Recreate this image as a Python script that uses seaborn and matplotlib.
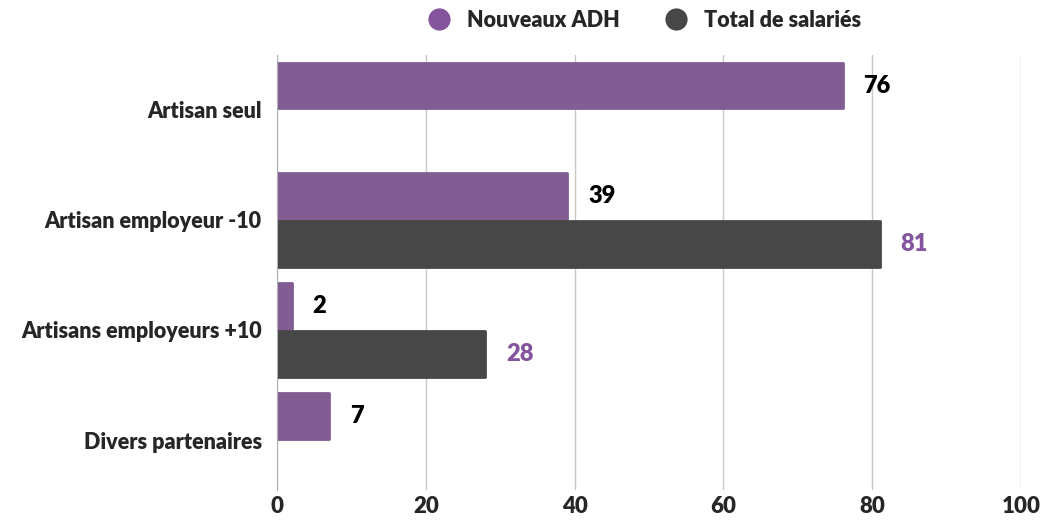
import pandas as pd
import numpy as np
import matplotlib
matplotlib.use("Agg")
import matplotlib.pyplot as plt
from matplotlib.lines import Line2D
import seaborn as sns

# données
categories = ["Artisan seul", "Artisan employeur -10", "Artisans employeurs +10", "Divers partenaires"]
series = ["Nouveaux ADH", "Total de salariés"]
nouveaux_adh = [76, 39, 2, 7]
total_salaries = [np.nan, 81, 28, np.nan]
x_ticks = [0, 20, 40, 60, 80, 100]

violet = "#84549c"
gris = "#474747"

df = pd.DataFrame({
    "categorie": categories * 2,
    "serie": [series[0]] * 4 + [series[1]] * 4,
    "valeur": nouveaux_adh + total_salaries,
})

sns.set_style("white")
plt.rcParams["font.family"] = ["Lato", "DejaVu Sans"]

fig = plt.figure(figsize=(10.43, 5.23), dpi=100)
ax = fig.add_axes([0.2656, 0.064, 0.7134, 0.831])

sns.barplot(data=df, y="categorie", x="valeur", hue="serie", orient="h",
            palette=[violet, gris], width=0.88, gap=0.06, legend=False, ax=ax,
            order=categories, hue_order=series)

# coins légèrement arrondis
for p in ax.patches:
    p.set_edgecolor(p.get_facecolor())
    p.set_linewidth(2)
    p.set_joinstyle("round")

# étiquettes de valeurs
label_colors = ["black", violet]
for cont, col in zip(ax.containers, label_colors):
    labs = ["" if (np.isnan(v) or v == 0) else f"{int(v)}" for v in cont.datavalues]
    ax.bar_label(cont, labels=labs, padding=15, color=col, fontsize=17, fontweight="heavy")

ax.set_xlim(0, 100)
ax.set_xticks(x_ticks)
ax.set_xticklabels([str(t) for t in x_ticks], fontsize=16, fontweight="heavy")
ax.set_ylim(3.45, -0.5)
ax.set_xlabel("")
ax.set_ylabel("")
ax.tick_params(axis="y", labelsize=15.5, length=0, pad=11)
for lab in ax.get_yticklabels():
    lab.set_fontweight("heavy")
ax.tick_params(axis="x", length=0, pad=5)

ax.grid(axis="x", color="#c8c8c8", linewidth=1)
ax.set_axisbelow(True)
for s in ["top", "right", "bottom"]:
    ax.spines[s].set_visible(False)
ax.spines["left"].set_color("#b0b0b0")

handles = [Line2D([0], [0], marker="o", color="w", markerfacecolor=c, markersize=17, linewidth=0)
           for c in [violet, gris]]
leg = fig.legend(handles, series, loc="upper center", bbox_to_anchor=(0.613, 1.018), ncol=2,
                 frameon=False, handletextpad=0.3, columnspacing=1.6,
                 prop={"family": ["Lato", "DejaVu Sans"], "weight": "heavy", "size": 15.5})

fig.savefig("out.png", dpi=100)
